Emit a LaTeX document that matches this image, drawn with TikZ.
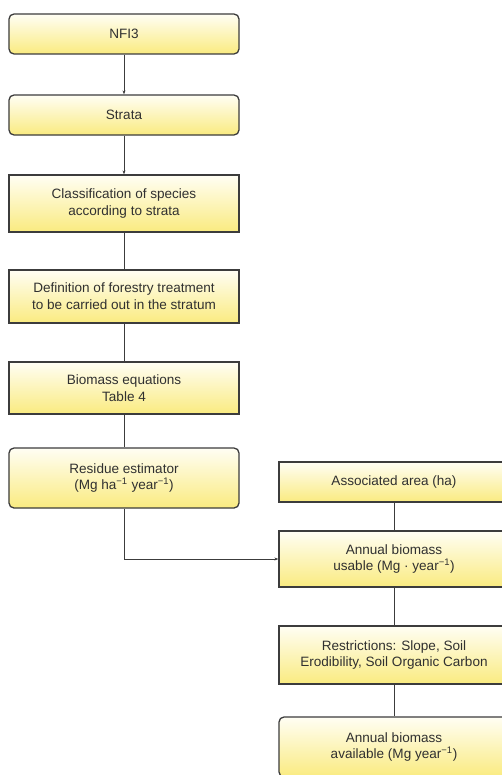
\documentclass[tikz,border=0pt]{standalone}
\usepackage{fontspec}
\setmainfont{Liberation Sans}
\usetikzlibrary{arrows.meta}

\definecolor{boxline}{HTML}{3C3C3C}
\definecolor{boxtop}{HTML}{FFFEF4}
\definecolor{boxbottom}{HTML}{FAEB80}
\definecolor{boxtext}{HTML}{303030}

\begin{document}
\begin{tikzpicture}[x=1bp,y=-1bp,
  box/.style={draw=boxline,line width=1.3bp,top color=boxtop,bottom color=boxbottom,
    minimum width=230bp,inner sep=0pt,align=center,text=boxtext,
    font=\fontsize{13.6}{16.8}\selectfont},
  rbox/.style={box,rounded corners=5bp},
  link/.style={draw=boxline,line width=1bp},
  tip/.style={link,-{Stealth[length=4bp,width=3bp]}}]

\path[use as bounding box,clip] (0,0) rectangle (502,775);

% Left column
\node[rbox,minimum height=40bp] (nfi) at (124,34) {NFI3};
\node[rbox,minimum height=40bp] (strata) at (124,115) {Strata};
\node[box,minimum height=57bp] (species) at (124,203.5)
  {Classification of species\\according to strata};
\node[box,minimum height=53bp] (treatment) at (124,296.5)
  {Definition of forestry treatment\\to be carried out in the stratum};
\node[box,minimum height=52bp] (equations) at (124,388)
  {Biomass equations\\Table 4};
\node[rbox,minimum height=60bp] (residue) at (124,478)
  {Residue estimator\\(Mg ha\textsuperscript{−1} year\textsuperscript{−1})};

% Right column
\node[box,minimum height=40bp] (area) at (394,482) {Associated area (ha)};
\node[box,minimum height=56bp] (usable) at (394,559)
  {Annual biomass\\usable (Mg · year\textsuperscript{−1})};
\node[box,minimum height=58bp] (restrict) at (394,655)
  {Restrictions: Slope, Soil\\Erodibility, Soil Organic Carbon};
\node[rbox,minimum height=60bp] (avail) at (394,747)
  {Annual biomass\\available (Mg year\textsuperscript{−1})};

% Connectors
\draw[tip] (nfi) -- (strata);
\draw[tip] (strata) -- (species);
\draw[link] (species) -- (treatment);
\draw[link] (treatment) -- (equations);
\draw[link] (equations) -- (residue);
\draw[tip] (residue) |- (usable);
\draw[link] (area) -- (usable);
\draw[link] (usable) -- (restrict);
\draw[link] (restrict) -- (avail);

\end{tikzpicture}
\end{document}
